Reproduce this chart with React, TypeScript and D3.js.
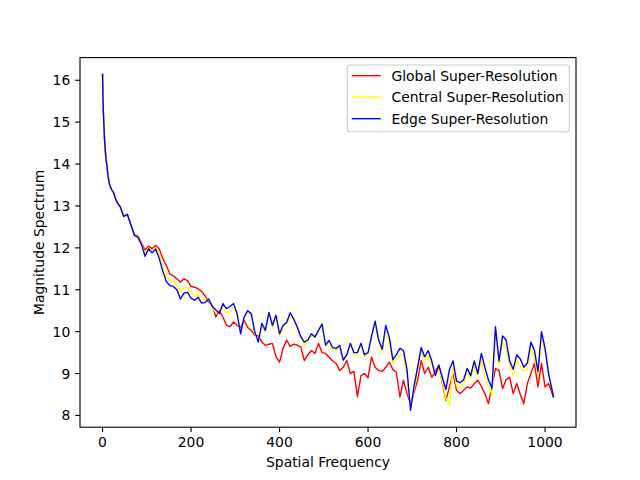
import React from "react";
import * as d3 from "d3";

// Spatial frequency index (shared by all series)
const freq: number[] = [
  0, 1, 2, 3, 4, 5, 6, 8, 10, 12, 15, 18, 21, 25, 30, 35,
  40, 48, 56, 64, 72, 80, 88, 96, 104, 112, 120, 128, 136, 144, 152, 160, 168, 176, 184, 192,
  200, 208, 216, 224, 232, 240, 248, 256, 264, 272, 280, 288, 296, 304, 312, 320, 328, 336, 344, 352,
  360, 368, 376, 384, 392, 400, 408, 416, 424, 432, 440, 448, 456, 464, 472, 480, 488, 496, 504, 512,
  520, 528, 536, 544, 552, 560, 568, 576, 584, 592, 600, 608, 616, 624, 632, 640, 648, 656, 664, 672,
  680, 688, 696, 704, 712, 720, 728, 736, 744, 752, 760, 768, 776, 784, 792, 800, 808, 816, 824, 832,
  840, 848, 856, 864, 872, 880, 888, 896, 904, 912, 920, 928, 936, 944, 952, 960, 968, 976, 984, 992,
  1000, 1008, 1019,
];

const globalSR: number[] = [
  16.14, 15.55, 15.2, 14.95, 14.7, 14.5, 14.35, 14.1, 13.95, 13.75, 13.55, 13.45, 13.38, 13.32, 13.15, 13.05,
  12.98, 12.75, 12.8, 12.55, 12.32, 12.28, 12.12, 11.95, 12.04, 11.98, 12.06, 11.98, 11.75, 11.58, 11.38, 11.33, 11.26, 11.18, 11.26, 11.22,
  11.08, 11.06, 11.02, 10.96, 10.85, 10.7, 10.62, 10.35, 10.5, 10.35, 10.15, 10.12, 10.23, 10.15, 10.1, 10.27, 10.1, 10.03, 9.91, 9.9,
  9.75, 9.67, 9.7, 9.72, 9.4, 9.27, 9.6, 9.8, 9.65, 9.7, 9.68, 9.63, 9.31, 9.45, 9.55, 9.48, 9.72, 9.5, 9.48, 9.39,
  9.3, 9.24, 9.07, 9.15, 9.31, 9.0, 9.05, 8.45, 8.95, 9.0, 8.9, 9.39, 9.15, 9.07, 9.05, 9.15, 9.27, 9.1, 9.03, 8.44,
  8.84, 8.52, 8.28, 8.55, 8.84, 9.31, 9.0, 9.15, 8.91, 9.05, 9.2, 8.76, 8.36, 8.68, 9.0, 8.6, 8.52, 8.6, 8.68, 8.65,
  8.76, 8.84, 8.7, 8.52, 8.28, 8.7, 9.12, 9.07, 8.64, 8.85, 8.91, 8.52, 8.76, 8.5, 8.28, 8.76, 9.0, 9.24, 8.68, 9.24,
  8.68, 8.76, 8.44,
];

const centralSR: number[] = [
  16.14, 15.55, 15.2, 14.95, 14.7, 14.5, 14.35, 14.1, 13.95, 13.75, 13.55, 13.45, 13.38, 13.32, 13.15, 13.05,
  12.98, 12.75, 12.8, 12.55, 12.31, 12.26, 12.1, 11.85, 12.0, 11.92, 12.0, 11.85, 11.55, 11.35, 11.22, 11.2, 11.12, 10.95, 11.05, 11.05,
  10.92, 10.88, 10.9, 10.78, 10.75, 10.75, 10.58, 10.45, 10.45, 10.6, 10.45, 10.5, 10.6, 10.38, 9.98, 10.32, 10.45, 10.38, 9.95, 9.75,
  10.15, 10.0, 10.4, 10.12, 10.32, 9.9, 10.1, 10.18, 10.35, 10.28, 10.1, 9.85, 9.68, 9.75, 9.92, 9.85, 10.08, 10.2, 9.65, 9.75,
  9.58, 9.55, 9.62, 9.3, 9.42, 9.7, 9.45, 9.45, 9.68, 9.4, 9.45, 9.85, 10.2, 9.75, 9.5, 10.05, 9.75, 9.25, 9.35, 9.45,
  9.45, 8.95, 8.2, 8.62, 9.05, 9.55, 9.3, 9.45, 9.2, 8.95, 9.1, 8.8, 8.4, 8.25, 9.15, 8.7, 8.65, 8.75, 9.0, 8.9,
  9.2, 8.95, 9.3, 8.95, 8.7, 8.5, 9.95, 9.2, 9.75, 9.6, 9.2, 8.95, 9.3, 9.2, 9.05, 9.1, 9.6, 9.4, 8.95, 9.85,
  9.5, 8.95, 8.5,
];

const edgeSR: number[] = [
  16.14, 15.55, 15.2, 14.95, 14.7, 14.5, 14.35, 14.1, 13.95, 13.75, 13.55, 13.45, 13.38, 13.32, 13.15, 13.05,
  12.98, 12.75, 12.8, 12.55, 12.3, 12.25, 12.08, 11.8, 11.98, 11.88, 11.97, 11.75, 11.45, 11.2, 11.1, 11.08, 11.0, 10.78, 10.92, 10.94,
  10.8, 10.75, 10.82, 10.68, 10.7, 10.78, 10.6, 10.52, 10.43, 10.67, 10.55, 10.6, 10.67, 10.43, 9.95, 10.35, 10.5, 10.43, 10.0, 9.75,
  10.2, 10.03, 10.46, 10.15, 10.39, 9.95, 10.15, 10.22, 10.45, 10.3, 10.11, 9.88, 9.75, 9.8, 9.95, 9.87, 10.03, 10.18, 9.68, 9.79,
  9.62, 9.6, 9.67, 9.32, 9.45, 9.72, 9.5, 9.5, 9.72, 9.45, 9.5, 9.9, 10.25, 9.8, 9.58, 10.15, 9.87, 9.33, 9.45, 9.6,
  9.55, 9.1, 8.12, 8.7, 9.15, 9.62, 9.4, 9.55, 9.3, 8.95, 9.2, 8.9, 8.62, 9.1, 9.3, 8.82, 8.78, 8.85, 9.12, 8.95,
  9.3, 9.0, 9.48, 9.15, 8.85, 8.65, 10.12, 9.3, 9.9, 9.8, 9.3, 9.1, 9.45, 9.35, 9.15, 9.25, 9.75, 9.55, 9.05, 10.0,
  9.6, 9.0, 8.45,
];

const seriesNames = ["Global Super-Resolution", "Central Super-Resolution", "Edge Super-Resolution"];
const seriesColors = ["#ff0000", "#ffff00", "#0000ff"];
const seriesValues = [globalSR, centralSR, edgeSR];

const xTicks = [0, 200, 400, 600, 800, 1000];
const yTicks = [8, 9, 10, 11, 12, 13, 14, 15, 16];

const W = 640;
const H = 480;
const M = { left: 80, right: 576, top: 57.6, bottom: 427.2 };
const FONT = "'DejaVu Sans', sans-serif";
const FS = 13.9;

export default function App() {
  const xExt = d3.extent(freq) as [number, number];
  const allY = seriesValues.flat();
  const yExt = d3.extent(allY) as [number, number];
  const xPad = (xExt[1] - xExt[0]) * 0.05;
  const yPad = (yExt[1] - yExt[0]) * 0.05;

  const x = d3.scaleLinear().domain([xExt[0] - xPad, xExt[1] + xPad]).range([M.left, M.right]);
  const y = d3.scaleLinear().domain([yExt[0] - yPad, yExt[1] + yPad]).range([M.bottom, M.top]);

  const line = d3
    .line<number>()
    .x((_, i) => x(freq[i]))
    .y((d) => y(d));

  const tickLen = 4.86;
  const legX = 347.3;
  const legY = 65;
  const legW = 222;
  const legH = 66.7;
  const rowY = [75.7, 97.2, 118.7];

  return (
    <svg
      width={W}
      height={H}
      style={{ position: "absolute", left: 0, top: 0, background: "#fff" }}
      fontFamily={FONT}
    >
      <rect x={0} y={0} width={W} height={H} fill="#fff" />
      <defs>
        <clipPath id="plotclip">
          <rect x={M.left} y={M.top} width={M.right - M.left} height={M.bottom - M.top} />
        </clipPath>
      </defs>

      <g clipPath="url(#plotclip)">
        {seriesValues.map((vals, k) => (
          <path
            key={k}
            d={line(vals) || ""}
            fill="none"
            stroke={seriesColors[k]}
            strokeWidth={1.39}
            strokeLinejoin="round"
            strokeLinecap="square"
          />
        ))}
      </g>

      {/* spines */}
      <rect
        x={M.left}
        y={M.top}
        width={M.right - M.left}
        height={M.bottom - M.top}
        fill="none"
        stroke="#000"
        strokeWidth={1.11}
      />

      {/* x ticks */}
      {xTicks.map((t) => (
        <g key={"x" + t}>
          <line x1={x(t)} x2={x(t)} y1={M.bottom} y2={M.bottom + tickLen} stroke="#000" strokeWidth={1.11} />
          <text x={x(t)} y={M.bottom + tickLen + 4.86 + FS * 0.76} textAnchor="middle" fontSize={FS} fill="#000">
            {t}
          </text>
        </g>
      ))}

      {/* y ticks */}
      {yTicks.map((t) => (
        <g key={"y" + t}>
          <line x1={M.left - tickLen} x2={M.left} y1={y(t)} y2={y(t)} stroke="#000" strokeWidth={1.11} />
          <text
            x={M.left - tickLen - 4.86}
            y={y(t)}
            dy="0.36em"
            textAnchor="end"
            fontSize={FS}
            fill="#000"
          >
            {t}
          </text>
        </g>
      ))}

      <text x={(M.left + M.right) / 2} y={467} textAnchor="middle" fontSize={FS} fill="#000">
        Spatial Frequency
      </text>
      <text
        transform={`translate(44,${(M.top + M.bottom) / 2}) rotate(-90)`}
        textAnchor="middle"
        fontSize={FS}
        fill="#000"
      >
        Magnitude Spectrum
      </text>

      {/* legend */}
      <rect
        x={legX}
        y={legY}
        width={legW}
        height={legH}
        rx={2.8}
        fill="#fff"
        fillOpacity={0.8}
        stroke="#cccccc"
        strokeWidth={1.11}
      />
      {seriesNames.map((name, k) => (
        <g key={name}>
          <line x1={351.7} x2={380.7} y1={rowY[k]} y2={rowY[k]} stroke={seriesColors[k]} strokeWidth={1.39} />
          <text x={391.5} y={rowY[k]} dy="0.36em" fontSize={FS} fill="#000">
            {name}
          </text>
        </g>
      ))}
    </svg>
  );
}
